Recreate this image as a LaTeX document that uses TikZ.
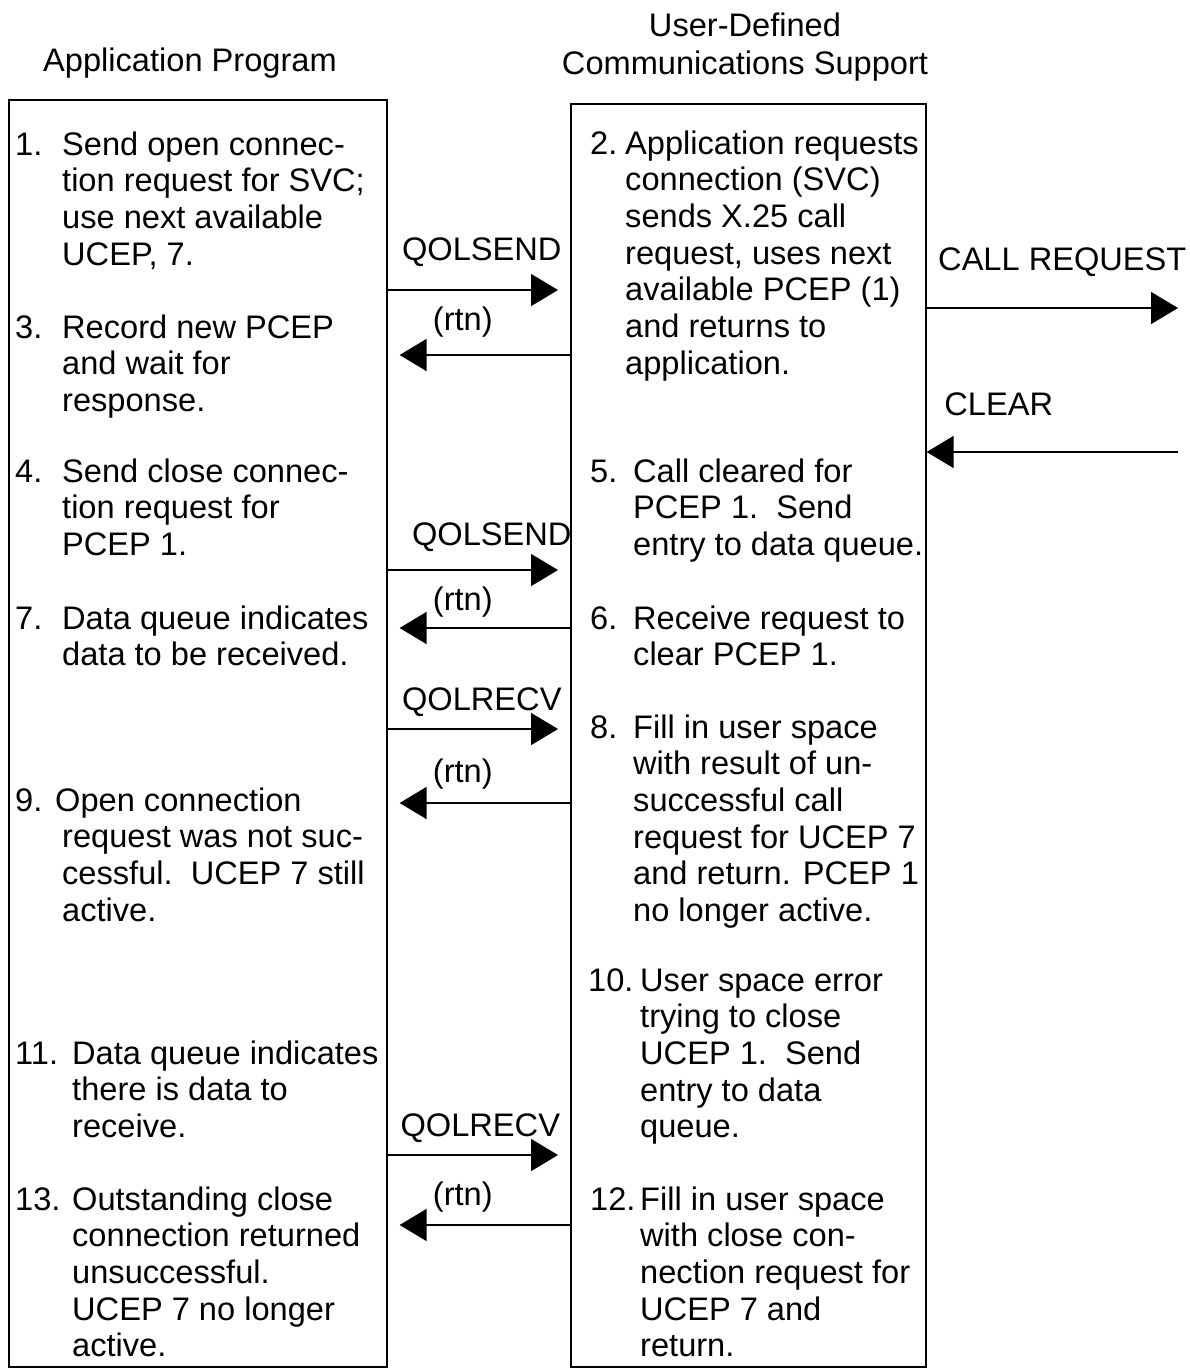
\documentclass[tikz,border=0pt]{standalone}
\usepackage{fontspec}
\setmainfont{Liberation Sans}
\usetikzlibrary{arrows.meta}

\newcommand{\bodyfont}{\fontsize{32.6}{36.7}\selectfont}
\newcommand{\itm}[3]{\begin{tabular}[t]{@{}p{#1}@{}l@{}}#2 & #3\end{tabular}}

\tikzset{
    lane/.style={draw, line width=1.6pt, inner sep=0pt, anchor=north west},
    txt/.style={anchor=base west, inner sep=0pt, font=\bodyfont},
    head/.style={anchor=base, inner sep=0pt, font=\bodyfont},
    msg/.style={line width=1.6pt, -{Triangle[length=27pt,width=32pt]}},
    gap/.style={shorten >=12pt},
    lbl/.style={inner sep=0pt, text depth=0pt, font=\bodyfont},
}

\begin{document}
\begin{tikzpicture}[x=1pt, y=-1pt]

    \useasboundingbox (0, 0) rectangle (1190, 1368);

    % headings and the two lanes
    \node[head] (apphead) at (190, 71.5) {Application Program};
    \node[head] (udshead) at (745, 36.5) {User-Defined};
    \node[head] (udshead2) at (745, 74.5) {Communications Support};

    \node[lane, minimum width=378pt, minimum height=1267pt] (app) at (8, 99) {};
    \node[lane, minimum width=355pt, minimum height=1263pt] (uds) at (570, 103) {};
    \coordinate (net) at (1178, 0);

    % application program steps
    \node[txt] (s1) at (15, 155) {\itm{47pt}{1.}{Send open connec-\\ & tion request for SVC;\\ & use next available\\ & UCEP, 7.}};
    \node[txt] (s3) at (15, 338) {\itm{47pt}{3.}{Record new PCEP\\ & and wait for\\ & response.}};
    \node[txt] (s4) at (15, 482) {\itm{47pt}{4.}{Send close connec-\\ & tion request for\\ & PCEP 1.}};
    \node[txt] (s7) at (15, 629) {\itm{47pt}{7.}{Data queue indicates\\ & data to be received.}};
    \node[txt] (s9) at (15, 811) {\itm{47pt}{9.}{\hspace*{-7pt}Open connection\\ & request was not suc-\\ & cessful.\ \ UCEP 7 still\\ & active.}};
    \node[txt] (s11) at (15, 1064) {\itm{57pt}{11.}{Data queue indicates\\ & there is data to\\ & receive.}};
    \node[txt] (s13) at (15, 1210) {\itm{57pt}{13.}{Outstanding close\\ & connection returned\\ & unsuccessful.\\ & UCEP 7 no longer\\ & active.}};

    % communications support steps
    \node[txt] (s2) at (590, 154) {\itm{35pt}{2.}{Application requests\\ & connection (SVC)\\ & sends X.25 call\\ & request, uses next\\ & available PCEP (1)\\ & and returns to\\ & application.}};
    \node[txt] (s5) at (590, 482) {\itm{43pt}{5.}{Call cleared for\\ & PCEP 1.\ \ Send\\ & entry to data queue.}};
    \node[txt] (s6) at (590, 629) {\itm{43pt}{6.}{Receive request to\\ & clear PCEP 1.}};
    \node[txt] (s8) at (590, 738) {\itm{43pt}{8.}{Fill in user space\\ & with result of un-\\ & successful call\\ & request for UCEP 7\\ & and return. PCEP 1\\ & no longer active.}};
    \node[txt] (s10) at (588, 991) {\itm{52pt}{10.}{User space error\\ & trying to close\\ & UCEP 1.\ \ Send\\ & entry to data\\ & queue.}};
    \node[txt] (s12) at (590, 1210) {\itm{50pt}{12.}{Fill in user space\\ & with close con-\\ & nection request for\\ & UCEP 7 and\\ & return.}};

    % calls and returns
    \draw[msg, gap] (app.east |- 0, 290) -- (uds.west |- 0, 290) node[lbl, midway, above=28.5pt, xshift=3pt] (send1) {QOLSEND};
    \draw[msg, gap] (uds.west |- 0, 355) -- (app.east |- 0, 355) node[lbl, midway, above=23.5pt, xshift=-16pt] (rtn1) {(rtn)};
    \draw[msg] (uds.east |- 0, 308) -- (net |- 0, 308) node[lbl, midway, above=36.5pt, xshift=10pt] (callreq) {CALL REQUEST};
    \draw[msg] (net |- 0, 452) -- (uds.east |- 0, 452) node[lbl, midway, above=35.5pt, xshift=-53.5pt] (clear) {CLEAR};
    \draw[msg, gap] (app.east |- 0, 570) -- (uds.west |- 0, 570) node[lbl, midway, above=23.5pt, xshift=13pt] (send2) {QOLSEND};
    \draw[msg, gap] (uds.west |- 0, 628) -- (app.east |- 0, 628) node[lbl, midway, above=16.5pt, xshift=-16pt] (rtn2) {(rtn)};
    \draw[msg, gap] (app.east |- 0, 729) -- (uds.west |- 0, 729) node[lbl, midway, above=17.5pt, xshift=3pt] (recv1) {QOLRECV};
    \draw[msg, gap] (uds.west |- 0, 803) -- (app.east |- 0, 803) node[lbl, midway, above=19.5pt, xshift=-16pt] (rtn3) {(rtn)};
    \draw[msg, gap] (app.east |- 0, 1155) -- (uds.west |- 0, 1155) node[lbl, midway, above=17.5pt, xshift=1.5pt] (recv2) {QOLRECV};
    \draw[msg, gap] (uds.west |- 0, 1225) -- (app.east |- 0, 1225) node[lbl, midway, above=18.5pt, xshift=-16pt] (rtn4) {(rtn)};

\end{tikzpicture}
\end{document}
